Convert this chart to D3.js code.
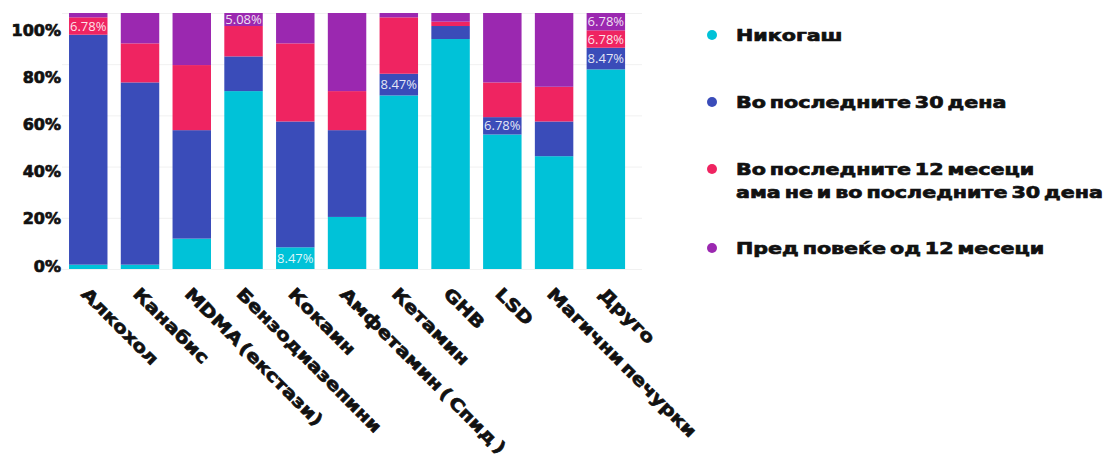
<!DOCTYPE html>
<html>
<head>
<meta charset="utf-8">
<script src="https://cdn.jsdelivr.net/npm/d3@7"></script>
<style>
  body { margin: 0; background: #fff; }
  .bold { font-family: "DejaVu Sans", sans-serif; font-weight: bold; fill: #111; stroke: #111; stroke-width: 0.7px; }
</style>
</head>
<body>
<div id="chart-container"></div>
<script>
// respondents per answer, out of 59 per substance
const categories = ["Алкохол", "Канабис", "MDMA (екстази)", "Бензодиазепини", "Кокаин",
  "Амфетамин ( Спид )", "Кетамин", "GHB", "LSD", "Магични печурки", "Друго"];
const never = [1, 1, 7, 41, 5, 12, 40, 53, 31, 26, 46];
const last30 = [53, 42, 25, 8, 29, 20, 5, 3, 4, 8, 5];
const last12 = [4, 9, 15, 7, 18, 9, 13, 1, 8, 8, 4];
const before12 = [1, 7, 12, 3, 7, 18, 1, 2, 16, 17, 4];

const seriesKeys = ["never", "last30", "last12", "before12"];
const seriesNames = ["Никогаш", "Во последните 30 дена",
  "Во последните 12 месеци\nама не и во последните 30 дена", "Пред повеќе од 12 месеци"];
const yTicks = [0, 0.2, 0.4, 0.6, 0.8, 1];
// segments that carry a value label: [category index, series key]
const labelled = [[0, "last12"], [3, "before12"], [4, "never"], [6, "last30"],
  [8, "last30"], [10, "last30"], [10, "last12"], [10, "before12"]];

const rows = categories.map((c, i) => ({
  cat: c, never: never[i], last30: last30[i], last12: last12[i], before12: before12[i]
}));

const palette = d3.scaleOrdinal(seriesKeys, ["#00c2d8", "#3a4cb9", "#ef2461", "#9b28b0"]);

const width = 1108, height = 456;
const svg = d3.select("#chart-container").append("svg")
  .attr("width", width).attr("height", height);

const x = d3.scaleBand().domain(categories).range([62.4, 631.7])
  .paddingInner(0.257).paddingOuter(0.128);
const y = d3.scaleLinear().domain([0, 1]).range([269, 13]);
// the percentage labels sit a bit apart from the bars in the original
const yLab = d3.scaleLinear().domain([0, 1]).range([266, 30]);

// faint gridlines
svg.append("g")
  .attr("transform", "translate(62,0)")
  .call(d3.axisLeft(y).tickValues(yTicks).tickSize(-580).tickFormat(""))
  .call(g => g.select(".domain").remove())
  .call(g => g.selectAll("line").attr("stroke", "#f1f1f1"));

const stacked = d3.stack().keys(seriesKeys).offset(d3.stackOffsetExpand)(rows);

svg.append("g").selectAll("g")
  .data(stacked).join("g")
  .attr("fill", d => palette(d.key))
  .selectAll("rect")
  .data(d => d).join("rect")
  .attr("x", d => x(d.data.cat))
  .attr("width", x.bandwidth())
  .attr("y", d => y(d[1]))
  .attr("height", d => y(d[0]) - y(d[1]));

const fmt = d3.format(".2%");
svg.append("g").selectAll("text")
  .data(labelled).join("text")
  .attr("x", d => x(categories[d[0]]) + x.bandwidth() / 2)
  .attr("y", d => {
    const seg = stacked[seriesKeys.indexOf(d[1])][d[0]];
    return (y(seg[0]) + y(seg[1])) / 2;
  })
  .attr("dy", "0.36em")
  .attr("text-anchor", "middle")
  .style("font-family", "'Open Sans', sans-serif")
  .style("font-size", "13px")
  .style("fill", "#fff")
  .style("fill-opacity", 0.88)
  .text(d => {
    const seg = stacked[seriesKeys.indexOf(d[1])][d[0]];
    return fmt(seg[1] - seg[0]);
  });

// y axis labels
svg.append("g")
  .attr("transform", "translate(61,0)")
  .call(d3.axisLeft(yLab).tickValues(yTicks).tickSize(0).tickPadding(0).tickFormat(d3.format(".0%")))
  .call(g => g.select(".domain").remove())
  .call(g => g.selectAll("text")
    .attr("class", "bold")
    .style("font-size", "16px"));

// x axis labels, rotated
svg.append("g")
  .attr("transform", `translate(0,${y(0)})`)
  .call(d3.axisBottom(x).tickSize(0))
  .call(g => g.select(".domain").remove())
  .call(g => g.selectAll("text")
    .attr("class", "bold")
    .attr("x", 0).attr("y", 0).attr("dy", 0)
    .attr("transform", "translate(-8,26) rotate(45) scale(1.2,1)")
    .style("text-anchor", "start")
    .style("word-spacing", "-3px")
    .style("font-size", "17px"));

// legend
let ly = 35;
const legend = svg.append("g");
seriesKeys.forEach((k, i) => {
  const lines = seriesNames[i].split("\n");
  legend.append("circle")
    .attr("cx", 712).attr("cy", ly).attr("r", 5)
    .attr("fill", palette(k));
  lines.forEach((t, j) => {
    legend.append("text")
      .attr("class", "bold")
      .attr("transform", `translate(736,${ly + 6 + j * 22.6}) scale(1.29,1)`)
      .style("font-size", "16px")
      .style("word-spacing", "-2.5px")
      .text(t);
  });
  ly += 67 + (lines.length - 1) * 12;
});
</script>
</body>
</html>
